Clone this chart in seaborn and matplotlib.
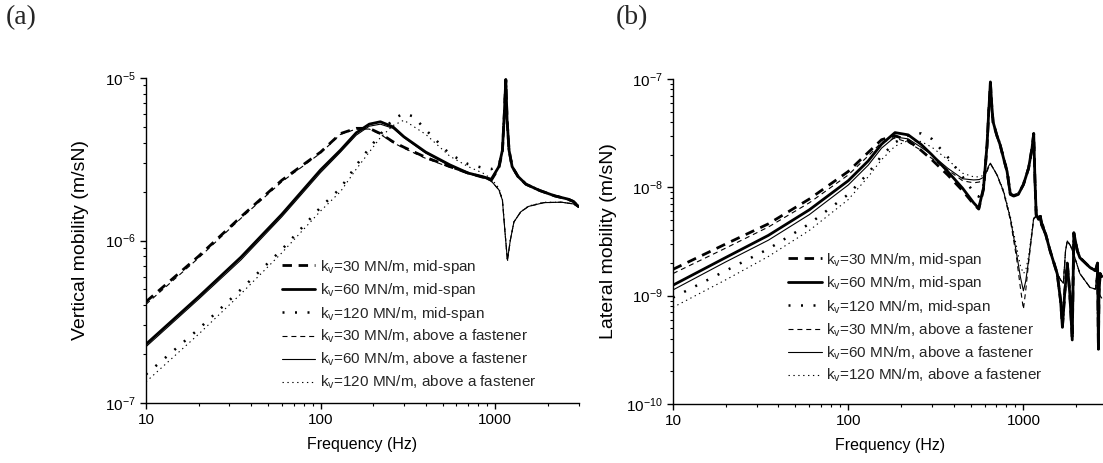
import matplotlib
matplotlib.use('Agg')
import matplotlib.pyplot as plt
import seaborn as sns
from matplotlib.ticker import LogLocator, NullFormatter, FixedLocator, FixedFormatter

# ---------------- Panel (a): vertical mobility ----------------
fa_mid = [10, 20, 35, 60, 100, 130, 160, 190, 220, 260, 300, 400, 550, 700, 850, 950,
          1050, 1100, 1130, 1150, 1170, 1200, 1250, 1350, 1500, 1800, 2200, 2600, 2800, 3000]
a_k30_mid = [4.2e-7, 8.0e-7, 1.4e-6, 2.35e-6, 3.5e-6, 4.55e-6, 4.9e-6, 4.9e-6, 4.55e-6, 4.05e-6,
             3.75e-6, 3.25e-6, 2.85e-6, 2.6e-6, 2.45e-6, 2.35e-6, 2.8e-6, 3.55e-6, 6.2e-6, 9.7e-6,
             5.5e-6, 3.6e-6, 2.85e-6, 2.48e-6, 2.22e-6, 2.03e-6, 1.88e-6, 1.8e-6, 1.74e-6, 1.62e-6]
a_k60_mid = [2.3e-7, 4.5e-7, 7.9e-7, 1.45e-6, 2.72e-6, 3.6e-6, 4.6e-6, 5.2e-6, 5.38e-6, 5.0e-6,
             4.35e-6, 3.5e-6, 2.92e-6, 2.6e-6, 2.47e-6, 2.38e-6, 2.85e-6, 3.6e-6, 6.3e-6, 9.8e-6,
             5.5e-6, 3.6e-6, 2.85e-6, 2.48e-6, 2.22e-6, 2.03e-6, 1.88e-6, 1.8e-6, 1.74e-6, 1.62e-6]
fa_k120_mid = [10, 20, 35, 60, 100, 130, 160, 190, 220, 260, 300, 340, 400, 550, 700, 850, 950,
               1050, 1100, 1130, 1150, 1170, 1200, 1250, 1350, 1500, 1800, 2200, 2600, 2800, 3000]
a_k120_mid = [1.5e-7, 2.85e-7, 5.0e-7, 8.8e-7, 1.6e-6, 2.1e-6, 2.9e-6, 3.7e-6, 4.5e-6, 5.6e-6,
              6.05e-6, 5.8e-6, 4.8e-6, 3.4e-6, 2.95e-6, 2.8e-6, 2.75e-6, 2.9e-6, 3.6e-6, 6.2e-6,
              9.7e-6, 5.5e-6, 3.6e-6, 2.85e-6, 2.48e-6, 2.22e-6, 2.03e-6, 1.88e-6, 1.8e-6, 1.74e-6, 1.62e-6]

fa_fast = [10, 20, 35, 60, 100, 130, 160, 190, 220, 260, 300, 400, 550, 700, 850, 950,
           1050, 1100, 1140, 1175, 1220, 1280, 1400, 1550, 1900, 2400, 2800, 3000]
a_k30_fast = [4.05e-7, 7.8e-7, 1.37e-6, 2.3e-6, 3.45e-6, 4.5e-6, 4.85e-6, 4.85e-6, 4.5e-6, 4.0e-6,
              3.7e-6, 3.2e-6, 2.82e-6, 2.58e-6, 2.45e-6, 2.32e-6, 2.05e-6, 1.77e-6, 1.1e-6, 7.5e-7,
              1.0e-6, 1.3e-6, 1.5e-6, 1.62e-6, 1.71e-6, 1.72e-6, 1.68e-6, 1.6e-6]
a_k60_fast = [2.22e-7, 4.35e-7, 7.6e-7, 1.4e-6, 2.62e-6, 3.5e-6, 4.45e-6, 5.05e-6, 5.2e-6, 4.9e-6,
              4.3e-6, 3.45e-6, 2.88e-6, 2.58e-6, 2.45e-6, 2.32e-6, 2.05e-6, 1.77e-6, 1.1e-6, 7.6e-7,
              1.0e-6, 1.3e-6, 1.5e-6, 1.62e-6, 1.71e-6, 1.72e-6, 1.68e-6, 1.6e-6]
a_k120_fast = [1.35e-7, 2.65e-7, 4.7e-7, 8.4e-7, 1.52e-6, 2.0e-6, 2.75e-6, 3.5e-6, 4.3e-6, 5.1e-6,
               5.5e-6, 4.5e-6, 3.3e-6, 2.85e-6, 2.6e-6, 2.4e-6, 2.1e-6, 1.8e-6, 1.12e-6, 7.4e-7,
               1.0e-6, 1.3e-6, 1.5e-6, 1.63e-6, 1.72e-6, 1.72e-6, 1.68e-6, 1.6e-6]

# ---------------- Panel (b): lateral mobility ----------------
fb_mid = [10, 20, 35, 60, 100, 130, 155, 185, 220, 260, 300, 370, 450, 520, 556, 592, 620, 634, 648,
          660, 672, 706, 737, 770, 807, 842, 880, 935, 1000, 1070, 1120, 1145, 1163, 1183, 1220,
          1250, 1270, 1340, 1420, 1560, 1630, 1670, 1720, 1780, 1840, 1900, 1940, 2030, 2100,
          2400, 2580, 2650, 2680, 2700, 2740, 2800]
b_k30_mid = [1.75e-9, 3.0e-9, 4.6e-9, 7.8e-9, 1.4e-8, 2.1e-8, 2.75e-8, 3.0e-8, 2.7e-8, 2.2e-8,
             1.8e-8, 1.3e-8, 9.3e-9, 7.0e-9, 6.3e-9, 9.6e-9, 2.4e-8, 4.9e-8, 9.2e-8,
             5.6e-8, 3.9e-8, 3.0e-8, 2.45e-8, 1.85e-8, 1.4e-8, 8.7e-9, 8.4e-9, 8.7e-9, 1.06e-8,
             1.5e-8, 2.3e-8, 3.1e-8, 1.2e-8, 5.6e-9, 5.1e-9, 5.4e-9, 4.5e-9, 3.7e-9, 2.6e-9,
             1.6e-9, 9.0e-10, 5.2e-10, 1.05e-9, 2.0e-9, 1.05e-9, 4.0e-10, 3.8e-9, 2.6e-9, 2.25e-9,
             1.82e-9, 1.7e-9, 2.0e-9, 3.3e-10, 1.04e-9, 1.6e-9, 1.5e-9]
b_k60_mid = [1.25e-9, 2.25e-9, 3.6e-9, 6.2e-9, 1.15e-8, 1.75e-8, 2.5e-8, 3.2e-8, 3.05e-8, 2.5e-8,
             2.0e-8, 1.4e-8, 9.8e-9, 7.2e-9, 6.4e-9, 9.9e-9, 2.47e-8, 5.0e-8, 9.4e-8,
             5.7e-8, 4.0e-8, 3.0e-8, 2.46e-8, 1.86e-8, 1.4e-8, 8.6e-9, 8.3e-9, 8.6e-9, 1.06e-8,
             1.5e-8, 2.3e-8, 3.15e-8, 1.22e-8, 5.6e-9, 5.06e-9, 5.4e-9, 4.5e-9, 3.68e-9, 2.6e-9,
             1.59e-9, 9.0e-10, 5.1e-10, 1.04e-9, 2.0e-9, 1.04e-9, 3.9e-10, 3.8e-9, 2.6e-9, 2.24e-9,
             1.82e-9, 1.7e-9, 2.0e-9, 3.2e-10, 1.04e-9, 1.6e-9, 1.5e-9]
b_k120_mid = [9.6e-10, 1.7e-9, 2.7e-9, 4.6e-9, 8.6e-9, 1.35e-8, 1.95e-8, 2.6e-8, 3.0e-8, 3.15e-8,
              2.8e-8, 1.9e-8, 1.25e-8, 9.0e-9, 8.2e-9, 1.05e-8, 2.5e-8, 5.0e-8, 9.3e-8,
              5.7e-8, 4.0e-8, 3.0e-8, 2.5e-8, 1.9e-8, 1.45e-8, 9.0e-9, 8.5e-9, 8.7e-9, 1.07e-8,
              1.5e-8, 2.3e-8, 3.1e-8, 1.22e-8, 5.7e-9, 5.1e-9, 5.4e-9, 4.5e-9, 3.7e-9, 2.6e-9,
              1.6e-9, 9.0e-10, 5.2e-10, 1.05e-9, 2.0e-9, 1.05e-9, 4.0e-10, 3.8e-9, 2.6e-9, 2.25e-9,
              1.82e-9, 1.7e-9, 2.0e-9, 3.3e-10, 1.04e-9, 1.6e-9, 1.5e-9]

fb_fast = [10, 20, 35, 60, 100, 130, 155, 185, 220, 260, 300, 370, 450, 520, 560, 600, 630, 648,
           672, 706, 770, 842, 915, 960, 1000, 1030, 1070, 1145, 1200, 1250, 1300, 1420, 1560,
           1630, 1690, 1740, 1780, 1855, 1940, 2100, 2400, 2580, 2620, 2660, 2740, 2800]
b_k30_fast = [1.6e-9, 2.75e-9, 4.3e-9, 7.2e-9, 1.3e-8, 1.95e-8, 2.6e-8, 2.85e-8, 2.6e-8, 2.2e-8,
              1.85e-8, 1.45e-8, 1.15e-8, 1.1e-8, 1.12e-8, 1.2e-8, 1.5e-8, 1.65e-8,
              1.5e-8, 1.3e-8, 9.0e-9, 5.0e-9, 2.2e-9, 1.2e-9, 7.5e-10, 1.1e-9, 2.0e-9, 5.1e-9,
              5.5e-9, 5.2e-9, 4.5e-9, 2.6e-9, 1.6e-9, 1.4e-9, 1.3e-9, 2.6e-9, 3.2e-9, 2.9e-9,
              2.4e-9, 1.6e-9, 1.19e-9, 1.15e-9, 1.6e-9, 1.05e-9, 1.0e-9, 9.5e-10]
b_k60_fast = [1.13e-9, 2.05e-9, 3.25e-9, 5.6e-9, 1.05e-8, 1.6e-8, 2.3e-8, 2.92e-8, 2.8e-8, 2.35e-8,
              2.0e-8, 1.5e-8, 1.2e-8, 1.17e-8, 1.18e-8, 1.25e-8, 1.55e-8, 1.67e-8,
              1.5e-8, 1.31e-8, 9.2e-9, 5.2e-9, 2.43e-9, 1.5e-9, 1.11e-9, 1.35e-9, 2.1e-9, 5.2e-9,
              5.5e-9, 5.2e-9, 4.5e-9, 2.6e-9, 1.6e-9, 1.4e-9, 1.3e-9, 2.6e-9, 3.2e-9, 2.9e-9,
              2.4e-9, 1.6e-9, 1.19e-9, 1.15e-9, 1.6e-9, 1.05e-9, 1.0e-9, 9.5e-10]
b_k120_fast = [7.8e-10, 1.4e-9, 2.3e-9, 4.0e-9, 7.7e-9, 1.25e-8, 1.8e-8, 2.4e-8, 2.7e-8, 2.65e-8,
               2.35e-8, 1.8e-8, 1.35e-8, 1.25e-8, 1.25e-8, 1.3e-8, 1.55e-8, 1.65e-8,
               1.5e-8, 1.32e-8, 9.4e-9, 5.4e-9, 2.8e-9, 1.9e-9, 1.6e-9, 1.7e-9, 2.3e-9, 5.3e-9,
               5.6e-9, 5.2e-9, 4.5e-9, 2.6e-9, 1.6e-9, 1.4e-9, 1.3e-9, 2.6e-9, 3.2e-9, 2.9e-9,
               2.4e-9, 1.6e-9, 1.19e-9, 1.15e-9, 1.6e-9, 1.05e-9, 1.0e-9, 9.5e-10]

labels = ["k$_v$=30 MN/m, mid-span", "k$_v$=60 MN/m, mid-span", "k$_v$=120 MN/m, mid-span",
          "k$_v$=30 MN/m, above a fastener", "k$_v$=60 MN/m, above a fastener",
          "k$_v$=120 MN/m, above a fastener"]
xticks = [10, 100, 1000]
xticklabels = ["10", "100", "1000"]

sns.set_theme(style="ticks")
plt.rcParams['font.family'] = ['Liberation Sans', 'DejaVu Sans']
plt.rcParams['mathtext.default'] = 'regular'
plt.rcParams['axes.linewidth'] = 1.0

styles = [
    dict(lw=2.0, ls=(0, (3.4, 2.4))),
    dict(lw=2.0, ls='-'),
    dict(lw=1.8, ls=(0, (0.8, 4.2))),
    dict(lw=0.8, ls=(0, (4.5, 3.5))),
    dict(lw=0.8, ls='-'),
    dict(lw=0.8, ls=(0, (1.2, 3.2))),
]

fig = plt.figure(figsize=(11.03, 4.63), dpi=100)
axA = fig.add_axes([146 / 1103, 60 / 463, 432.5 / 1103, 325 / 463])
axB = fig.add_axes([673 / 1103, 59 / 463, 434 / 1103, 325 / 463])

seriesA = [(fa_mid, a_k30_mid), (fa_mid, a_k60_mid), (fa_k120_mid, a_k120_mid),
           (fa_fast, a_k30_fast), (fa_fast, a_k60_fast), (fa_fast, a_k120_fast)]
seriesB = [(fb_mid, b_k30_mid), (fb_mid, b_k60_mid), (fb_mid, b_k120_mid),
           (fb_fast, b_k30_fast), (fb_fast, b_k60_fast), (fb_fast, b_k120_fast)]

for ax, series, ylim, ylab, lpad in [(axA, seriesA, (1e-7, 1e-5), "Vertical mobility (m/sN)", 11),
                                      (axB, seriesB, (1e-10, 1e-7), "Lateral mobility (m/sN)", 6)]:
    ax.set_xscale('log')
    ax.set_yscale('log')
    for (f, v), st, lab in zip(series, styles, labels):
        sns.lineplot(x=f, y=v, ax=ax, color='black', linewidth=st['lw'], linestyle=st['ls'],
                     label=lab, estimator=None, sort=False, legend=False)
    ax.set_xlim(10, 3000)
    ax.set_ylim(*ylim)
    sns.despine(ax=ax)
    ax.xaxis.set_major_locator(FixedLocator(xticks))
    ax.xaxis.set_major_formatter(FixedFormatter(xticklabels))
    ax.xaxis.set_minor_locator(LogLocator(base=10, subs=range(2, 10), numticks=20))
    ax.xaxis.set_minor_formatter(NullFormatter())
    ax.yaxis.set_major_locator(LogLocator(base=10, numticks=10))
    ax.yaxis.set_minor_locator(LogLocator(base=10, subs=range(2, 10), numticks=20))
    ax.yaxis.set_minor_formatter(NullFormatter())
    ax.tick_params(which='major', direction='out', length=4.5, width=1.0, labelsize=11,
                   color='black', labelcolor='black', pad=3)
    ax.tick_params(which='minor', direction='out', length=2.5, width=0.8, color='black')
    for sp in ax.spines.values():
        sp.set_color('black')
    ax.set_xlabel("Frequency (Hz)", fontsize=11.5, color='black', labelpad=7)
    ax.set_ylabel(ylab, fontsize=14, color='black', labelpad=lpad)
    ax.set_facecolor('white')

legend_kw = dict(loc='lower left', frameon=False, fontsize=11, handlelength=2.2,
                 handletextpad=0.3, labelspacing=0.36, borderpad=0, borderaxespad=0)
hA, lA = axA.get_legend_handles_labels()
axA.legend(hA, lA, bbox_to_anchor=(0.314, 0.036), **legend_kw)
hB, lB = axB.get_legend_handles_labels()
axB.legend(hB, lB, bbox_to_anchor=(0.265, 0.06), **legend_kw)

fig.text(6 / 1103, 1 - 5 / 463, "(a)", fontsize=20, family='Liberation Serif', va='top', ha='left')
fig.text(616 / 1103, 1 - 5 / 463, "(b)", fontsize=20, family='Liberation Serif', va='top', ha='left')

fig.savefig("out.png", dpi=100, facecolor='white')
